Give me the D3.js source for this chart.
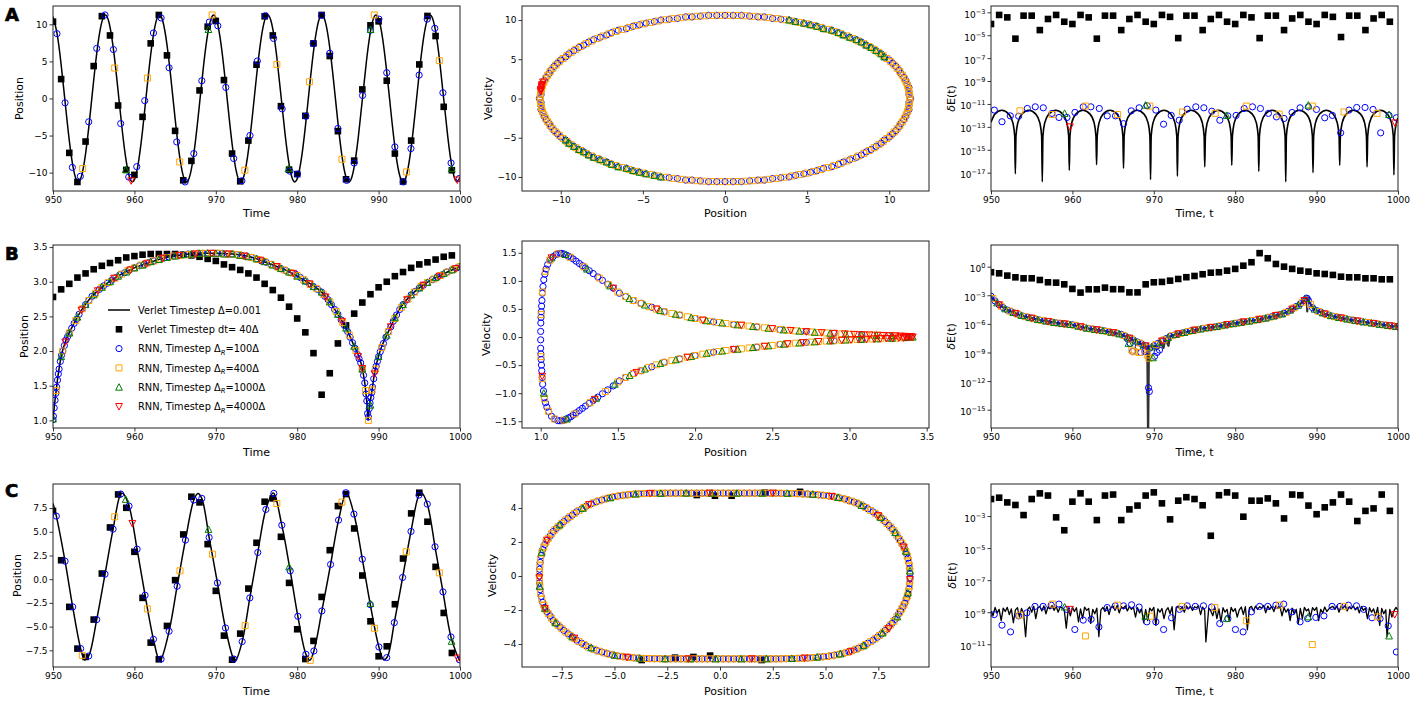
<!DOCTYPE html>
<html><head><meta charset="utf-8">
<script src="https://cdn.jsdelivr.net/npm/d3@7"></script>
<style>body{margin:0;background:#fff}svg{font-family:"DejaVu Sans",sans-serif}</style>
</head><body><script>
// ================= DATA =================
const verletTimes=[950,951,952,953,954,955,956,957,958,959,960,961,962,963,964,965,966,967,968,969,970,971,972,973,974,975,976,977,978,979,980,981,982,983,984,985,986,987,988,989,990,991,992,993,994,995,996,997,998,999];

// ---- Row A : position vs time ----
const A_line=[[950,11.01],[950.5,8.75],[951,4.57],[951.5,-0.61],[952,-5.65],[952.5,-9.46],[953,-11.19],[953.5,-10.48],[954,-7.46],[954.5,-2.81],[955,2.45],[955.5,7.18],[956,10.33],[956.5,11.23],[957,9.66],[957.5,5.97],[958,0.98],[958.5,-4.22],[959,-8.5],[959.5,-10.92],[960,-10.95],[960.5,-8.57],[961,-4.33],[961.5,0.88],[962,5.88],[962.5,9.6],[963,11.22],[963.5,10.38],[964,7.26],[964.5,2.56],[965,-2.71],[965.5,-7.38],[966,-10.44],[966.5,-11.21],[967,-9.52],[967.5,-5.75],[968,-0.72],[968.5,4.47],[969,8.68],[969.5,10.98],[970,10.89],[970.5,8.4],[971,4.08],[971.5,-1.14],[972,-6.11],[972.5,-9.74],[973,-11.23],[973.5,-10.27],[974,-7.07],[974.5,-2.3],[975,2.96],[975.5,7.57],[976,10.53],[976.5,11.18],[977,9.38],[977.5,5.52],[978,0.46],[978.5,-4.71],[979,-8.84],[979.5,-11.04],[980,-10.82],[980.5,-8.23],[981,-3.83],[981.5,1.4],[982,6.32],[982.5,9.86],[983,11.25],[983.5,10.16],[984,6.85],[984.5,2.04],[985,-3.22],[985.5,-7.77],[986,-10.62],[986.5,-11.15],[987,-9.23],[987.5,-5.29],[988,-0.19],[988.5,4.95],[989,9.0],[989.5,11.09],[990,10.74],[990.5,8.04],[991,3.58],[991.5,-1.66],[992,-6.54],[992.5,-9.99],[993,-11.25],[993.5,-10.05],[994,-6.64],[994.5,-1.78],[995,3.47],[995.5,7.96],[996,10.7],[996.5,11.11],[997,9.08],[997.5,5.06],[998,-0.07],[998.5,-5.18],[999,-9.16],[999.5,-11.13],[1000,-10.66]];
const A_verlet=[10.36,2.61,-7.34,-11.26,-5.81,4.37,11.1,8.5,-0.95,-9.64,-10.3,-2.48,7.43,11.26,5.81,-4.37,-11.04,-8.42,1.08,9.68,10.45,2.48,-7.43,-11.17,-5.68,4.55,11.08,8.5,-1.04,-9.6,-10.2,-2.34,7.43,11.26,5.72,-4.41,-10.9,-8.38,1.22,9.86,10.4,2.39,-7.43,-11.2,-5.68,4.59,11.13,8.42,-1.13,-9.68];
const A_rnn100=[[950.49,8.74],[951.48,-0.59],[952.38,-9.3],[953.36,-10.5],[954.39,-3.15],[955.37,6.75],[956.39,11.26],[957.42,6.6],[958.32,-3.38],[959.3,-10.6],[960.29,-9.2],[961.27,-0.3],[962.34,8.83],[963.28,10.86],[964.26,4.14],[965.2,-5.86],[966.23,-11.26],[967.3,-7.43],[968.28,2.39],[969.2,10.3],[970.25,9.8],[971.23,1.49],[972.2,-8.1],[973.2,-11.1],[974.2,-5.0],[975.1,5.05],[976.1,11.17],[977.1,8.1],[978.15,-1.4],[979.1,-9.8],[980.04,-10.2],[981.07,-2.4],[981.97,7.4],[983.0,11.2],[984.0,6.1],[985.0,-4.05],[986.07,-11.05],[987.0,-8.7],[988.03,0.4],[989.0,9.2],[990.04,10.7],[991.0,3.47],[992.0,-6.53],[993.03,-11.26],[993.97,-6.76],[994.98,3.15],[995.97,10.7],[996.9,9.46],[997.9,0.77],[998.9,-8.7],[999.9,-10.8]];
const A_rnn400=[[953.65,-9.46],[957.58,4.1],[961.6,2.75],[965.57,-8.56],[969.55,11.26],[973.57,-9.68],[977.5,4.6],[981.5,2.25],[985.5,-8.2],[989.47,11.26],[993.44,-9.9],[997.46,5.1]];
const A_rnn1000=[[958.93,-9.6],[969.1,9.3],[978.93,-9.46],[989.02,9.3],[998.97,-9.46]];
const A_rnn4000=[[959.6,-11.1],[999.67,-11.0]];

// ---- Row A : phase space ----
const A_ph100=[[11.3,0],[11.2,0.5],[11.2,0.9],[11.2,1.4],[11.1,1.8],[11.0,2.3],[10.9,2.7],[10.7,3.2],[10.6,3.6],[10.4,4.1],[10.2,4.5],[10.0,4.9],[9.7,5.3],[9.5,5.7],[9.2,6.1],[8.9,6.5],[8.6,6.8],[8.3,7.2],[8.0,7.5],[7.6,7.8],[7.2,8.1],[6.9,8.4],[6.5,8.7],[6.0,8.9],[5.6,9.2],[5.2,9.4],[4.8,9.6],[4.3,9.8],[3.9,10.0],[3.4,10.1],[2.9,10.2],[2.4,10.4],[2.0,10.4],[1.5,10.5],[1.0,10.6],[0.5,10.6],
[0,10.6],[-0.5,10.6],[-1.0,10.6],[-1.5,10.5],[-2.0,10.4],[-2.4,10.4],[-2.9,10.2],[-3.4,10.1],[-3.9,10.0],[-4.3,9.8],[-4.8,9.6],[-5.2,9.4],[-5.6,9.2],[-6.0,8.9],[-6.5,8.7],[-6.9,8.4],[-7.2,8.1],[-7.6,7.8],[-8.0,7.5],[-8.3,7.2],[-8.6,6.8],[-8.9,6.5],[-9.2,6.1],[-9.5,5.7],[-9.7,5.3],[-10.0,4.9],[-10.2,4.5],[-10.4,4.1],[-10.6,3.6],[-10.7,3.2],[-10.9,2.7],[-11.0,2.3],[-11.1,1.8],[-11.2,1.4],[-11.2,0.9],[-11.2,0.5],
[-11.3,0],[-11.2,-0.5],[-11.2,-0.9],[-11.2,-1.4],[-11.1,-1.8],[-11.0,-2.3],[-10.9,-2.7],[-10.7,-3.2],[-10.6,-3.6],[-10.4,-4.1],[-10.2,-4.5],[-10.0,-4.9],[-9.7,-5.3],[-9.5,-5.7],[-9.2,-6.1],[-8.9,-6.5],[-8.6,-6.8],[-8.3,-7.2],[-8.0,-7.5],[-7.6,-7.8],[-7.2,-8.1],[-6.9,-8.4],[-6.5,-8.7],[-6.0,-8.9],[-5.6,-9.2],[-5.2,-9.4],[-4.8,-9.6],[-4.3,-9.8],[-3.9,-10.0],[-3.4,-10.1],[-2.9,-10.2],[-2.4,-10.4],[-2.0,-10.4],[-1.5,-10.5],[-1.0,-10.6],[-0.5,-10.6],
[0,-10.6],[0.5,-10.6],[1.0,-10.6],[1.5,-10.5],[2.0,-10.4],[2.4,-10.4],[2.9,-10.2],[3.4,-10.1],[3.9,-10.0],[4.3,-9.8],[4.8,-9.6],[5.2,-9.4],[5.6,-9.2],[6.0,-8.9],[6.5,-8.7],[6.9,-8.4],[7.2,-8.1],[7.6,-7.8],[8.0,-7.5],[8.3,-7.2],[8.6,-6.8],[8.9,-6.5],[9.2,-6.1],[9.5,-5.7],[9.7,-5.3],[10.0,-4.9],[10.2,-4.5],[10.4,-4.1],[10.6,-3.6],[10.7,-3.2],[10.9,-2.7],[11.0,-2.3],[11.1,-1.8],[11.2,-1.4],[11.2,-0.9],[11.2,-0.5]];
const A_ph400=[[11.25,0.23],[11.22,0.69],[11.18,1.15],[11.12,1.61],[11.03,2.07],[10.92,2.52],[10.8,2.97],[10.65,3.41],[10.48,3.85],[10.3,4.27],[10.09,4.69],[9.86,5.1],[9.62,5.5],[9.36,5.89],[9.08,6.27],[8.78,6.63],[8.46,6.99],[8.12,7.33],[7.78,7.66],[7.42,7.97],[7.04,8.27],[6.65,8.55],[6.25,8.81],[5.84,9.06],[5.41,9.29],[4.97,9.51],[4.53,9.7],[4.08,9.88],[3.62,10.04],[3.15,10.18],[2.67,10.3],[2.19,10.4],[1.71,10.48],[1.23,10.54],[0.74,10.58],[0.25,10.6],
[-0.25,10.6],[-0.74,10.58],[-1.23,10.54],[-1.71,10.48],[-2.19,10.4],[-2.67,10.3],[-3.15,10.18],[-3.62,10.04],[-4.08,9.88],[-4.53,9.7],[-4.97,9.51],[-5.41,9.29],[-5.84,9.06],[-6.25,8.81],[-6.65,8.55],[-7.04,8.27],[-7.42,7.97],[-7.78,7.66],[-8.12,7.33],[-8.46,6.99],[-8.78,6.63],[-9.08,6.27],[-9.36,5.89],[-9.62,5.5],[-9.86,5.1],[-10.09,4.69],[-10.3,4.27],[-10.48,3.85],[-10.65,3.41],[-10.8,2.97],[-10.92,2.52],[-11.03,2.07],[-11.12,1.61],[-11.18,1.15],[-11.22,0.69],[-11.25,0.23],
[-11.25,-0.23],[-11.22,-0.69],[-11.18,-1.15],[-11.12,-1.61],[-11.03,-2.07],[-10.92,-2.52],[-10.8,-2.97],[-10.65,-3.41],[-10.48,-3.85],[-10.3,-4.27],[-10.09,-4.69],[-9.86,-5.1],[-9.62,-5.5],[-9.36,-5.89],[-9.08,-6.27],[-8.78,-6.63],[-8.46,-6.99],[-8.12,-7.33],[-7.78,-7.66],[-7.42,-7.97],[-7.04,-8.27],[-6.65,-8.55],[-6.25,-8.81],[-5.84,-9.06],[-5.41,-9.29],[-4.97,-9.51],[-4.53,-9.7],[-4.08,-9.88],[-3.62,-10.04],[-3.15,-10.18],[-2.67,-10.3],[-2.19,-10.4],[-1.71,-10.48],[-1.23,-10.54],[-0.74,-10.58],[-0.25,-10.6],
[0.25,-10.6],[0.74,-10.58],[1.23,-10.54],[1.71,-10.48],[2.19,-10.4],[2.67,-10.3],[3.15,-10.18],[3.62,-10.04],[4.08,-9.88],[4.53,-9.7],[4.97,-9.51],[5.41,-9.29],[5.84,-9.06],[6.25,-8.81],[6.65,-8.55],[7.04,-8.27],[7.42,-7.97],[7.78,-7.66],[8.12,-7.33],[8.46,-6.99],[8.78,-6.63],[9.08,-6.27],[9.36,-5.89],[9.62,-5.5],[9.86,-5.1],[10.09,-4.69],[10.3,-4.27],[10.48,-3.85],[10.65,-3.41],[10.8,-2.97],[10.92,-2.52],[11.03,-2.07],[11.12,-1.61],[11.18,-1.15],[11.22,-0.69],[11.25,-0.23]];
const A_ph1000=[[9.7,5.3],[9.5,5.7],[9.2,6.1],[8.9,6.5],[8.6,6.8],[8.3,7.2],[8.0,7.5],[7.6,7.8],[7.2,8.1],[6.9,8.4],[6.5,8.7],[6.0,8.9],[5.6,9.2],[5.2,9.4],[4.8,9.6],[4.3,9.8],[3.9,10.0],[-9.7,-5.3],[-9.5,-5.7],[-9.2,-6.1],[-8.9,-6.5],[-8.6,-6.8],[-8.3,-7.2],[-8.0,-7.5],[-7.6,-7.8],[-7.2,-8.1],[-6.9,-8.4],[-6.5,-8.7],[-6.0,-8.9],[-5.6,-9.2],[-5.2,-9.4],[-4.8,-9.6],[-4.3,-9.8],[-3.9,-10.0]];
const A_ph4000=[[-11.22,0.9],[-11.2,1.2],[-11.17,1.5],[-11.13,1.8],[-11.08,2.1],[-11.21,1.05],[-11.15,1.65]];

// ---- Row A : energy error ----
const A_errLine=[[950.0,2.5e-13],[950.47,1.3e-12],[951.33,2.8e-12],[952.19,1.3e-12],[952.69,2.2e-13],[952.91,1.6e-14],[952.99,7.9e-18],[953.07,1.6e-14],[953.29,2.2e-13],[953.79,1.3e-12],[954.65,2.8e-12],[955.5,1.3e-12],[956.0,2.2e-13],[956.22,1.6e-14],[956.3,1.6e-18],[956.38,1.6e-14],[956.6,2.2e-13],[957.1,1.3e-12],[957.96,2.8e-12],[958.82,1.3e-12],[959.32,2.2e-13],[959.54,1.6e-14],[959.62,1.6e-17],[959.7,1.6e-14],[959.92,2.2e-13],[960.42,1.3e-12],[961.3,2.8e-12],[962.17,1.3e-12],[962.67,2.2e-13],[962.89,1.6e-14],[962.97,5.0e-17],[963.05,1.6e-14],[963.27,2.2e-13],[963.77,1.3e-12],[964.62,2.8e-12],[965.48,1.3e-12],[965.98,2.2e-13],[966.2,1.6e-14],[966.28,2.5e-17],[966.36,1.6e-14],[966.58,2.2e-13],[967.08,1.3e-12],[967.94,2.8e-12],[968.8,1.3e-12],[969.3,2.2e-13],[969.52,1.6e-14],[969.6,2.5e-18],[969.68,1.6e-14],[969.9,2.2e-13],[970.4,1.3e-12],[971.25,2.8e-12],[972.1,1.3e-12],[972.6,2.2e-13],[972.82,1.6e-14],[972.9,5.0e-18],[972.98,1.6e-14],[973.2,2.2e-13],[973.7,1.3e-12],[974.58,2.8e-12],[975.46,1.3e-12],[975.96,2.2e-13],[976.18,1.6e-14],[976.26,3.2e-17],[976.34,1.6e-14],[976.56,2.2e-13],[977.06,1.3e-12],[977.92,2.8e-12],[978.78,1.3e-12],[979.28,2.2e-13],[979.5,1.6e-14],[979.58,4.5e-17],[979.66,1.6e-14],[979.88,2.2e-13],[980.38,1.3e-12],[981.24,2.8e-12],[982.1,1.3e-12],[982.6,2.2e-13],[982.82,1.6e-14],[982.9,1.3e-17],[982.98,1.6e-14],[983.2,2.2e-13],[983.7,1.3e-12],[984.56,2.8e-12],[985.41,1.3e-12],[985.91,2.2e-13],[986.13,1.6e-14],[986.21,1.6e-18],[986.29,1.6e-14],[986.51,2.2e-13],[987.01,1.3e-12],[987.88,2.8e-12],[988.76,1.3e-12],[989.26,2.2e-13],[989.48,1.6e-14],[989.56,1.0e-17],[989.64,1.6e-14],[989.86,2.2e-13],[990.36,1.3e-12],[991.2,2.8e-12],[992.04,1.3e-12],[992.54,2.2e-13],[992.76,1.6e-14],[992.84,4.5e-17],[992.92,1.6e-14],[993.14,2.2e-13],[993.64,1.3e-12],[994.52,2.8e-12],[995.4,1.3e-12],[995.9,2.2e-13],[996.12,1.6e-14],[996.2,3.2e-17],[996.28,1.6e-14],[996.5,2.2e-13],[997.0,1.3e-12],[997.85,2.8e-12],[998.7,1.3e-12],[999.2,2.2e-13],[999.42,1.6e-14],[999.5,6.3e-18],[999.58,1.6e-14],[999.8,2.2e-13],[1000.0,6.0e-13]];
const A_errVerlet=[9.5e-5,5.9e-4,3.6e-4,5.0e-6,5.1e-4,5.1e-4,2.8e-5,2.6e-4,5.9e-4,1.5e-4,9.5e-5,5.9e-4,3.6e-4,5.0e-6,5.1e-4,5.1e-4,2.8e-5,2.6e-4,5.9e-4,1.5e-4,9.5e-5,5.9e-4,4.0e-4,5.6e-6,5.1e-4,5.1e-4,2.8e-5,2.6e-4,5.9e-4,1.5e-4,9.5e-5,5.9e-4,3.6e-4,5.6e-6,5.1e-4,5.1e-4,2.8e-5,2.9e-4,5.9e-4,1.5e-4,9.5e-5,5.9e-4,4.0e-4,6.9e-6,5.1e-4,5.1e-4,2.8e-5,2.9e-4,5.9e-4,1.5e-4];
const A_err100=[[950.41,2.9e-12],[951.35,2.8e-13],[952.37,9.1e-13],[953.4,8.5e-13],[954.46,4.0e-12],[955.44,5.6e-12],[956.42,4.6e-12],[957.49,1.5e-12],[958.35,6.6e-13],[959.33,6.6e-13],[960.31,1.8e-12],[961.33,5.6e-12],[962.27,5.6e-12],[963.3,4.0e-12],[964.28,9.1e-13],[965.3,9.1e-13],[966.28,1.9e-13],[967.23,2.5e-12],[968.2,4.6e-12],[969.19,6.9e-12],[970.25,2.9e-12],[971.2,1.7e-13],[972.14,1.0e-12],[973.12,3.8e-13],[974.1,3.5e-12],[975.16,5.6e-12],[976.15,4.6e-12],[977.13,2.3e-12],[978.11,3.8e-13],[979.09,9.1e-13],[980.11,1.0e-12],[981.1,4.0e-12],[982.12,5.6e-12],[983.1,4.0e-12],[984.08,1.5e-12],[985.07,7.4e-13],[986.0,5.4e-13],[986.99,1.8e-12],[987.97,4.6e-12],[988.99,5.6e-12],[989.98,3.3e-12],[991.0,6.2e-13],[991.94,1.0e-12],[992.96,3.0e-14],[993.99,2.9e-12],[994.93,4.9e-12],[995.95,4.9e-12],[996.93,3.3e-12],[997.87,3.0e-14],[998.9,1.0e-12],[999.8,6.2e-13]];
const A_err400=[[953.56,2.5e-12],[957.53,1.2e-12],[961.62,6.5e-12],[965.55,1.2e-12],[969.52,6.5e-12],[973.53,2.0e-12],[977.54,1.5e-12],[981.38,6.5e-12],[985.4,1.3e-12],[989.48,6.5e-12],[993.37,2.0e-12],[997.42,1.5e-12]];
const A_err1000=[[959.04,1.5e-12],[968.98,7.9e-12],[978.93,1.0e-12],[988.99,7.9e-12],[998.9,1.2e-12]];
const A_err4000=[[959.7,1.0e-13],[999.63,2.2e-13]];

// ---- Row B : position vs time ----
const B_line=[[950.0,1.0],[950.05,1.06],[950.1,1.12],[950.2,1.24],[950.33,1.37],[950.6,1.63],[951.0,1.92],[951.6,2.16],[952.5,2.38],[953.5,2.59],[954.7,2.78],[956.1,2.93],[957.8,3.07],[959.8,3.19],[961.9,3.28],[963.9,3.35],[966.0,3.39],[968.0,3.41],[970.0,3.41],[972.1,3.4],[974.2,3.36],[976.8,3.25],[978.9,3.15],[980.9,3.02],[983.0,2.85],[984.0,2.71],[985.0,2.53],[986.0,2.33],[987.0,2.07],[987.9,1.8],[988.3,1.54],[988.5,1.33],[988.62,1.15],[988.7,1.0],[988.8,1.12],[988.9,1.22],[989.1,1.36],[989.5,1.68],[990.1,1.97],[991.2,2.28],[992.4,2.57],[994.0,2.81],[996.1,3.0],[998.1,3.12],[1000.0,3.22]];
const B_verlet=[2.78,2.89,2.97,3.06,3.12,3.18,3.23,3.27,3.31,3.35,3.37,3.39,3.4,3.4,3.4,3.4,3.39,3.38,3.36,3.33,3.3,3.25,3.21,3.17,3.12,3.06,2.97,2.88,2.77,2.64,2.47,2.27,1.97,1.37,1.68,2.11,2.37,2.54,2.7,2.82,2.92,3.0,3.08,3.14,3.2,3.25,3.28,3.32,3.36,3.38];
const B_rnn100=[[950.0,1.01],[950.05,1.06],[950.15,1.18],[950.25,1.29],[950.35,1.39],[950.45,1.48],[950.55,1.58],[950.65,1.67],[950.75,1.74],[950.9,1.85],[951.05,1.94],[951.2,2.0],[951.4,2.08],[951.6,2.16],[951.8,2.21],[952.0,2.26],[952.3,2.33],[952.6,2.4],[952.9,2.46],[953.2,2.53],[953.6,2.61],[954.0,2.67],[954.4,2.73],[954.8,2.79],[955.2,2.83],[955.7,2.89],[956.2,2.94],[956.7,2.98],[957.2,3.02],[957.7,3.06],[958.2,3.1],[958.8,3.13],[959.4,3.17],[960.0,3.2],[960.6,3.23],[961.2,3.25],[961.8,3.28],[962.4,3.3],[963.0,3.32],[963.6,3.34],[964.2,3.36],[964.8,3.37],[965.4,3.38],[966.0,3.39],[966.6,3.4],[967.2,3.4],[967.8,3.41],[968.4,3.41],[969.0,3.41],[969.6,3.41],[970.2,3.41],[970.8,3.41],[971.4,3.4],[972.0,3.4],[972.6,3.39],[973.2,3.38],[973.8,3.37],[974.4,3.35],[975.0,3.33],[975.6,3.3],[976.2,3.28],[976.8,3.25],[977.4,3.22],[978.0,3.19],[978.6,3.16],[979.2,3.13],[979.8,3.11],[980.4,3.06],[981.0,3.01],[981.5,2.97],[982.0,2.93],[982.5,2.89],[983.0,2.85],[983.4,2.79],[983.8,2.74],[984.2,2.67],[984.6,2.6],[985.0,2.53],[985.4,2.45],[985.8,2.37],[986.2,2.28],[986.5,2.2],[986.8,2.12],[987.1,2.04],[987.4,1.95],[987.6,1.89],[987.8,1.83],[988.0,1.74],[988.15,1.65],[988.3,1.54],[988.45,1.38],[988.55,1.28],[988.65,1.1],[988.75,1.05],[988.85,1.17],[988.95,1.25],[989.05,1.33],[989.15,1.4],[989.25,1.48],[989.4,1.6],[989.55,1.71],[989.7,1.78],[989.85,1.85],[990.0,1.92],[990.2,1.99],[990.4,2.05],[990.6,2.11],[990.9,2.2],[991.2,2.28],[991.5,2.35],[991.8,2.43],[992.2,2.52],[992.6,2.6],[993.0,2.67],[993.5,2.74],[994.0,2.81],[994.5,2.86],[995.0,2.91],[995.5,2.95],[996.0,2.99],[996.6,3.03],[997.2,3.07],[997.8,3.1],[998.4,3.14],[999.0,3.17],[999.6,3.2]];
const B_rnn400=[[950.4,1.43],[951.2,2.0],[952.0,2.26],[952.8,2.44],[953.6,2.61],[954.4,2.73],[955.2,2.83],[956.0,2.92],[956.8,2.99],[957.6,3.05],[958.4,3.11],[959.2,3.16],[960.0,3.2],[960.8,3.24],[961.6,3.27],[962.4,3.3],[963.2,3.33],[964.0,3.35],[964.8,3.37],[965.6,3.38],[966.4,3.39],[967.2,3.4],[968.0,3.41],[968.8,3.41],[969.6,3.41],[970.4,3.41],[971.2,3.4],[972.0,3.4],[972.8,3.39],[973.6,3.37],[974.4,3.35],[975.2,3.32],[976.0,3.29],[976.8,3.25],[977.6,3.21],[978.4,3.17],[979.2,3.13],[980.0,3.09],[980.8,3.03],[981.6,2.96],[982.4,2.9],[983.2,2.82],[984.0,2.71],[984.8,2.57],[985.6,2.41],[986.4,2.23],[987.2,2.01],[988.0,1.74],[988.4,1.43],[988.75,1.0],[989.2,1.44],[989.6,1.74],[990.4,2.05],[991.2,2.28],[992.0,2.47],[992.8,2.63],[993.6,2.75],[994.4,2.85],[995.2,2.93],[996.0,2.99],[996.8,3.04],[997.6,3.09],[998.4,3.14],[999.2,3.18],[1000.0,3.22]];
const B_rnn1000=[[950,1.02],[951,1.92],[952,2.26],[953,2.49],[954,2.67],[955,2.81],[956,2.92],[957,3.0],[958,3.08],[959,3.14],[960,3.2],[961,3.24],[962,3.29],[963,3.32],[964,3.35],[965,3.37],[966,3.39],[967,3.4],[968,3.41],[969,3.41],[970,3.41],[971,3.4],[972,3.4],[973,3.38],[974,3.36],[975,3.33],[976,3.29],[977,3.24],[978,3.19],[979,3.14],[980,3.08],[981,3.01],[982,2.93],[983,2.85],[984,2.71],[985,2.53],[986,2.33],[987,2.07],[988,1.74],[989,1.22],[990,1.92],[991,2.23],[992,2.48],[993,2.67],[994,2.81],[995,2.91],[996,2.99],[997,3.06],[998,3.12],[999,3.17],[1000,3.22]];
const B_rnn4000=[[951.5,2.13],[953.5,2.59],[955.5,2.87],[957.5,3.05],[959.5,3.17],[961.5,3.26],[963.5,3.34],[965.5,3.38],[967.5,3.4],[969.5,3.41],[971.5,3.4],[973.5,3.37],[975.5,3.31],[977.5,3.22],[979.5,3.12],[981.5,2.97],[983.5,2.78],[985.5,2.43],[987.5,1.92],[988.0,1.75],[989.5,1.67],[991.5,2.35],[993.5,2.74],[995.5,2.95],[997.5,3.08],[999.5,3.19]];

// ---- Row B : phase space ----
const B_ph100=[[1.0,0.1],[1.001,0.25],[1.002,0.35],[1.004,0.45],[1.006,0.55],[1.008,0.65],[1.011,0.78],[1.015,0.9],[1.02,1.02],[1.027,1.12],[1.035,1.21],[1.045,1.29],[1.06,1.37],[1.08,1.43],[1.1,1.47],[1.11,1.48],[1.125,1.49],[1.135,1.49],[1.15,1.48],[1.165,1.46],[1.18,1.44],[1.195,1.42],[1.21,1.39],[1.23,1.35],[1.25,1.31],[1.27,1.27],[1.29,1.23],[1.315,1.18],[1.34,1.13],[1.37,1.07],[1.4,1.01],[1.435,0.94],[1.47,0.87],[1.51,0.78],[1.55,0.72],[1.6,0.65],[1.65,0.6],[1.72,0.53],[1.8,0.45],[1.9,0.39],[2.0,0.33],[2.12,0.27],[2.25,0.22],[2.4,0.18],[2.55,0.13],[2.72,0.095],[2.9,0.065],[3.08,0.042],[3.25,0.025],[3.4,0.004],
[1.0,-0.05],[1.0,-0.2],[1.001,-0.3],[1.003,-0.4],[1.005,-0.5],[1.007,-0.6],[1.01,-0.72],[1.013,-0.84],[1.018,-0.96],[1.024,-1.08],[1.031,-1.17],[1.04,-1.25],[1.052,-1.33],[1.07,-1.41],[1.09,-1.46],[1.112,-1.49],[1.125,-1.49],[1.138,-1.49],[1.15,-1.48],[1.165,-1.46],[1.18,-1.44],[1.195,-1.42],[1.21,-1.39],[1.23,-1.35],[1.25,-1.31],[1.27,-1.27],[1.29,-1.23],[1.315,-1.18],[1.34,-1.13],[1.37,-1.07],[1.4,-1.01],[1.435,-0.94],[1.47,-0.87],[1.51,-0.78],[1.55,-0.72],[1.6,-0.65],[1.65,-0.6],[1.72,-0.53],[1.8,-0.45],[1.9,-0.39],[2.0,-0.33],[2.12,-0.27],[2.25,-0.22],[2.4,-0.18],[2.55,-0.13],[2.72,-0.095],[2.9,-0.065],[3.08,-0.042],[3.25,-0.025],[3.35,-0.014]];
const B_ph400=[[1.003,0.4],[1.012,0.8],[1.03,1.17],[1.06,1.37],[1.11,1.48],[1.19,1.42],[1.28,1.25],[1.38,1.05],[1.44,0.93],[1.5,0.8],[1.55,0.72],[1.6,0.65],[1.65,0.6],[1.7,0.54],[1.75,0.495],[1.8,0.45],[1.85,0.42],[1.9,0.39],[1.95,0.36],[2.0,0.33],[2.05,0.305],[2.1,0.28],[2.15,0.26],[2.2,0.24],[2.25,0.225],[2.3,0.21],[2.35,0.195],[2.4,0.18],[2.45,0.165],[2.5,0.15],[2.55,0.135],[2.6,0.12],[2.65,0.11],[2.7,0.1],[2.75,0.09],[2.8,0.08],[2.85,0.072],[2.9,0.065],[2.95,0.057],[3.0,0.05],[3.05,0.045],[3.1,0.04],[3.15,0.035],[3.2,0.03],[3.25,0.025],[3.3,0.02],[3.35,0.013],[3.4,0.005],
[1.002,-0.35],[1.01,-0.74],[1.025,-1.1],[1.05,-1.32],[1.09,-1.46],[1.15,-1.48],[1.22,-1.37],[1.32,-1.17],[1.42,-0.97],[1.5,-0.8],[1.55,-0.72],[1.6,-0.65],[1.65,-0.6],[1.7,-0.54],[1.75,-0.495],[1.8,-0.45],[1.85,-0.42],[1.9,-0.39],[1.95,-0.36],[2.0,-0.33],[2.05,-0.305],[2.1,-0.28],[2.15,-0.26],[2.2,-0.24],[2.25,-0.225],[2.3,-0.21],[2.35,-0.195],[2.4,-0.18],[2.45,-0.165],[2.5,-0.15],[2.55,-0.135],[2.6,-0.12],[2.65,-0.11],[2.7,-0.1],[2.75,-0.09],[2.8,-0.08],[2.85,-0.072],[2.9,-0.065],[2.95,-0.057],[3.0,-0.05],[3.05,-0.045],[3.1,-0.04],[3.15,-0.035],[3.2,-0.03],[3.25,-0.025],[3.3,-0.02],[3.35,-0.013],[3.4,-0.005]];
const B_ph1000=[[1.07,1.41],[1.16,1.47],[1.3,1.21],[1.45,0.91],[1.575,0.685],[1.675,0.57],[1.775,0.47],[1.875,0.405],[1.975,0.345],[2.075,0.29],[2.175,0.25],[2.275,0.217],[2.375,0.187],[2.475,0.157],[2.575,0.127],[2.675,0.105],[2.775,0.085],[2.875,0.068],[2.975,0.053],[3.075,0.042],[3.175,0.032],[3.275,0.022],[3.375,0.009],[3.41,0.0],
[1.02,-1.0],[1.17,-1.46],[1.36,-1.09],[1.48,-0.84],[1.575,-0.685],[1.675,-0.57],[1.775,-0.47],[1.875,-0.405],[1.975,-0.345],[2.075,-0.29],[2.175,-0.25],[2.275,-0.217],[2.375,-0.187],[2.475,-0.157],[2.575,-0.127],[2.675,-0.105],[2.775,-0.085],[2.875,-0.068],[2.975,-0.053],[3.075,-0.042],[3.175,-0.032],[3.275,-0.022],[3.375,-0.009]];
const B_ph4000=[[1.07,1.41],[1.47,0.87],[1.75,0.5],[2.05,0.3],[2.3,0.21],[2.5,0.15],[2.62,0.117],[2.72,0.096],[2.82,0.077],[2.9,0.065],[2.97,0.055],[3.03,0.047],[3.08,0.042],[3.13,0.037],[3.18,0.032],[3.22,0.028],[3.26,0.024],[3.3,0.02],[3.33,0.016],[3.36,0.012],[3.38,0.008],[3.4,0.004],[3.41,0.0],
[1.01,-0.7],[1.35,-1.11],[1.62,-0.63],[1.95,-0.36],[2.25,-0.22],[2.45,-0.165],[2.6,-0.12],[2.7,-0.1],[2.8,-0.08],[2.88,-0.068],[2.95,-0.057],[3.01,-0.049],[3.06,-0.044],[3.11,-0.039],[3.16,-0.034],[3.2,-0.03],[3.24,-0.026],[3.28,-0.022],[3.32,-0.017],[3.35,-0.013],[3.37,-0.01],[3.39,-0.006]];

// ---- Row B : energy error ----
const B_errLine=[[950,7.9e-4],[950.5,2.5e-4],[951,1e-4],[952,2.8e-5],[953,1.26e-5],[954,6.3e-6],[955,4e-6],[956,2.5e-6],[957,1.8e-6],[958,1.26e-6],[959,1e-6],[960,7.9e-7],[961,5e-7],[962,3.2e-7],[963,2.4e-7],[964,1.8e-7],[965,1.2e-7],[966,7.9e-8],[967,3.2e-8],[968,1.26e-8],[968.8,6e-9],[969.2,3.5e-9],[969.3,1e-18],[969.4,3.5e-9],[970,5e-9],[970.6,3e-9],[970.8,1.2e-8],[971.2,3e-9],[971.4,2.5e-8],[971.8,5e-9],[972,5e-8],[973,8.9e-8],[974,1.4e-7],[975,2.2e-7],[976,3.2e-7],[977,4.2e-7],[978,5.6e-7],[979,8.3e-7],[980,1.12e-6],[981,1.6e-6],[982,2.1e-6],[983,3e-6],[984,4.5e-6],[985,7.6e-6],[986,1.26e-5],[987,3.5e-5],[988,1.26e-4],[988.5,2.8e-4],[988.8,4.8e-4],[988.85,2e-5],[988.9,4.5e-4],[989,2.8e-4],[989.5,5e-5],[990,2.5e-5],[991,1.12e-5],[992,6.3e-6],[993,4.2e-6],[994,2.8e-6],[995,2e-6],[996,1.5e-6],[997,1.12e-6],[998,8.3e-7],[999,6.3e-7],[1000,5e-7]];
const B_errVerlet=[0.26,0.2,0.115,0.076,0.06,0.06,0.04,0.023,0.021,0.014,0.0046,0.0019,0.0042,0.0042,0.0063,0.0043,0.0043,0.002,0.002,0.014,0.023,0.025,0.034,0.051,0.078,0.105,0.16,0.23,0.26,0.38,0.58,1.26,2.9,26,7.6,1.9,1.0,0.58,0.38,0.3,0.2,0.17,0.135,0.089,0.076,0.076,0.06,0.06,0.047,0.047];
const B_err100=[[950.0,7.9e-4],[950.5,2.5e-4],[951.0,1.0e-4],[951.5,5.0e-5],[952.0,2.8e-5],[952.5,1.9e-5],[953.0,1.26e-5],[953.5,8.9e-6],[954.0,6.3e-6],[954.5,5.0e-6],[955.0,4.0e-6],[955.5,3.2e-6],[956.0,2.5e-6],[956.5,2.1e-6],[957.0,1.8e-6],[957.5,1.5e-6],[958.0,1.26e-6],[958.5,1.12e-6],[959.0,1.0e-6],[959.5,8.9e-7],[960.0,7.9e-7],[960.5,6.3e-7],[961.0,5.0e-7],[961.5,4.0e-7],[962.0,3.2e-7],[962.5,2.8e-7],[963.0,2.4e-7],[963.5,2.1e-7],[964.0,1.8e-7],[964.5,1.45e-7],[965.0,1.2e-7],[965.5,1.0e-7],[966.0,7.9e-8],[966.5,5.0e-8],[967.0,3.2e-8],[967.5,2.0e-8],[968.0,1.26e-8],[968.5,7.9e-9],[969.0,5.0e-9],[969.5,2.8e-9],[970.0,5.0e-9],[970.5,8.9e-9],[971.0,1.6e-8],[971.5,2.8e-8],[972.0,5.0e-8],[972.5,6.6e-8],[973.0,8.9e-8],[973.5,1.12e-7],[974.0,1.4e-7],[974.5,1.8e-7],[975.0,2.2e-7],[975.5,2.6e-7],[976.0,3.2e-7],[976.5,3.6e-7],[977.0,4.2e-7],[977.5,4.8e-7],[978.0,5.6e-7],[978.5,6.8e-7],[979.0,8.3e-7],[979.5,9.5e-7],[980.0,1.12e-6],[980.5,1.3e-6],[981.0,1.6e-6],[981.5,1.8e-6],[982.0,2.1e-6],[982.5,2.5e-6],[983.0,3.0e-6],[983.5,3.6e-6],[984.0,4.5e-6],[984.5,5.8e-6],[985.0,7.6e-6],[985.5,9.8e-6],[986.0,1.26e-5],[986.5,2.1e-5],[987.0,3.5e-5],[987.5,6.6e-5],[988.0,1.26e-4],[988.5,2.8e-4],[988.75,5.0e-4],[988.85,4.5e-4],[989.0,2.8e-4],[989.5,5.0e-5],[990.0,2.5e-5],[990.5,1.66e-5],[991.0,1.12e-5],[991.5,8.3e-6],[992.0,6.3e-6],[992.5,5.1e-6],[993.0,4.2e-6],[993.5,3.5e-6],[994.0,2.8e-6],[994.5,2.4e-6],[995.0,2.0e-6],[995.5,1.7e-6],[996.0,1.5e-6],[996.5,1.3e-6],[997.0,1.12e-6],[997.5,9.5e-7],[998.0,8.3e-7],[998.5,7.2e-7],[999.0,6.3e-7],[999.5,5.6e-7],[1000.0,5.0e-7],[966.8,2.5e-8],[967.1,9e-9],[967.4,1.3e-9],[968.1,4e-9],[968.4,1.0e-9],[968.9,1.26e-9],[969.0,2e-9],[969.35,2.0e-13],[969.45,8.0e-14],[970.1,4e-10],[970.4,1e-9],[970.7,1.8e-9]];
const B_err400=[[950.25,4.5e-4],[951.25,7.1e-5],[952.25,2.2e-5],[953.25,1.05e-5],[954.25,5.6e-6],[955.25,3.5e-6],[956.25,2.3e-6],[957.25,1.66e-6],[958.25,1.2e-6],[959.25,9.5e-7],[960.25,7.1e-7],[961.25,4.5e-7],[962.25,3.0e-7],[963.25,2.2e-7],[964.25,1.6e-7],[965.25,1.1e-7],[966.25,6.3e-8],[967.25,2.5e-8],[968.25,1.0e-8],[969.25,3.5e-9],[970.25,6.6e-9],[971.25,2.1e-8],[972.25,5.8e-8],[973.25,1.0e-7],[974.25,1.6e-7],[975.25,2.4e-7],[976.25,3.4e-7],[977.25,4.5e-7],[978.25,6.2e-7],[979.25,8.9e-7],[980.25,1.2e-6],[981.25,1.7e-6],[982.25,2.3e-6],[983.25,3.3e-6],[984.25,5.0e-6],[985.25,8.5e-6],[986.25,1.6e-5],[987.25,4.8e-5],[988.25,1.8e-4],[989.25,1.1e-4],[990.25,2.0e-5],[991.25,9.5e-6],[992.25,5.6e-6],[993.25,3.8e-6],[994.25,2.6e-6],[995.25,1.9e-6],[996.25,1.4e-6],[997.25,1.05e-6],[998.25,7.8e-7],[999.25,6.0e-7],[967.3,1.8e-9],[967.6,1.2e-9],[968.2,1.0e-9],[969.2,5.4e-10],[969.4,2.5e-10]];
const B_err1000=[[950.75,1.6e-4],[951.75,3.8e-5],[952.75,1.55e-5],[953.75,7.6e-6],[954.75,4.5e-6],[955.75,2.8e-6],[956.75,1.95e-6],[957.75,1.4e-6],[958.75,1.07e-6],[959.75,8.5e-7],[960.75,5.6e-7],[961.75,3.5e-7],[962.75,2.6e-7],[963.75,1.95e-7],[964.75,1.3e-7],[965.75,8.9e-8],[966.75,4.0e-8],[967.75,1.6e-8],[968.75,6.3e-9],[969.75,3.8e-9],[970.75,1.2e-8],[971.75,3.8e-8],[972.75,7.8e-8],[973.75,1.26e-7],[974.75,2.0e-7],[975.75,2.9e-7],[976.75,3.9e-7],[977.75,5.2e-7],[978.75,7.6e-7],[979.75,1.05e-6],[980.75,1.45e-6],[981.75,1.95e-6],[982.75,2.75e-6],[983.75,4.0e-6],[984.75,6.6e-6],[985.75,1.1e-5],[986.75,2.75e-5],[987.75,8.9e-5],[988.75,4.5e-4],[989.75,3.5e-5],[990.75,1.4e-5],[991.75,7.2e-6],[992.75,4.7e-6],[993.75,3.2e-6],[994.75,2.2e-6],[995.75,1.6e-6],[996.75,1.2e-6],[997.75,8.9e-7],[998.75,6.8e-7],[999.75,5.2e-7],[966.9,9.1e-9],[969.9,2.8e-10]];
const B_err4000=[[951,1.0e-4],[953,1.26e-5],[955,4.0e-6],[957,1.8e-6],[959,1.0e-6],[961,5.0e-7],[963,2.4e-7],[965,1.2e-7],[967,3.2e-8],[969,5.0e-9],[971,1.6e-8],[973,8.9e-8],[975,2.2e-7],[977,4.2e-7],[979,8.3e-7],[981,1.6e-6],[983,3.0e-6],[985,7.6e-6],[987,3.5e-5],[988.5,2.8e-4],[991,1.12e-5],[993,4.2e-6],[995,2.0e-6],[997,1.12e-6],[999,6.3e-7],[1000,5.0e-7]];

// ---- Row C : position vs time ----
const C_line=[[950.0,8.0],[950.41,6.65],[951.48,1.9],[952.42,-2.92],[953.4,-7.32],[953.9,-8.52],[954.39,-8.1],[955.37,-4.26],[956.39,0.53],[957.38,5.28],[958.32,8.98],[958.6,9.05],[959.34,7.71],[960.33,3.17],[961.31,-1.69],[962.34,-6.34],[963.05,-8.52],[963.28,-8.42],[964.26,-5.49],[965.25,-0.74],[966.27,4.12],[967.3,8.35],[967.8,9.05],[968.28,8.52],[969.18,4.4],[970.2,-0.39],[971.19,-5.14],[972.21,-8.42],[972.45,-8.52],[973.24,-6.58],[974.18,-1.97],[975.16,2.82],[976.15,7.36],[977.05,9.08],[978.11,5.7],[979.14,0.88],[980.08,-3.91],[981.07,-7.92],[981.55,-8.55],[982.05,-7.57],[983.03,-3.35],[984.1,1.55],[985.08,6.23],[986.05,9.1],[986.97,6.87],[988.0,2.11],[988.98,-2.68],[990.04,-7.15],[990.65,-8.52],[991.1,-8.15],[991.93,-4.58],[992.95,0.18],[993.98,5.04],[994.96,8.87],[995.3,9.08],[995.98,7.92],[996.93,3.42],[997.91,-1.34],[998.89,-6.09],[999.92,-8.49],[1000.0,-8.52]];
const C_verlet=[7.2,2.0,-2.92,-7.32,-8.2,-4.26,0.6,5.46,8.94,7.53,2.89,-1.97,-6.69,-8.45,-4.93,-0.1,4.72,8.7,8.1,3.7,-1.23,-5.95,-8.49,-5.74,-0.99,3.84,8.17,8.52,4.47,-0.39,-5.28,-8.42,-6.51,-1.87,3.06,7.71,8.98,5.35,0.39,-4.44,-8.13,-7.08,-2.64,2.18,6.94,9.12,6.06,1.3,-3.56,-7.78];
const C_rnn100=[[950.41,6.65],[951.48,1.9],[952.42,-2.92],[953.4,-7.32],[954.39,-8.1],[955.37,-4.26],[956.39,0.53],[957.38,5.28],[958.32,8.98],[959.34,7.71],[960.33,3.17],[961.31,-1.69],[962.34,-6.34],[963.28,-8.42],[964.26,-5.49],[965.25,-0.74],[966.27,4.12],[967.3,8.35],[968.28,8.52],[969.18,4.4],[970.2,-0.39],[971.19,-5.14],[972.21,-8.42],[973.24,-6.58],[974.18,-1.97],[975.16,2.82],[976.15,7.36],[977.13,9.05],[978.11,5.7],[979.14,0.88],[980.08,-3.91],[981.07,-7.92],[982.05,-7.57],[983.03,-3.35],[984.1,1.55],[985.08,6.23],[985.98,9.12],[986.97,6.87],[988.0,2.11],[988.98,-2.68],[990.04,-7.15],[991.0,-8.27],[991.93,-4.58],[992.95,0.18],[993.98,5.04],[994.96,8.87],[995.98,7.92],[996.93,3.42],[997.91,-1.34],[998.89,-6.09],[999.92,-8.49]];
const C_rnn400=[[953.6,-8.03],[957.58,6.58],[961.6,-3.13],[965.6,0.88],[969.6,2.64],[973.6,-4.9],[977.5,7.99],[981.6,-8.56],[985.5,8.13],[989.5,-5.18],[993.4,2.89],[997.46,0.67]];
const C_rnn1000=[[958.93,8.42],[969.1,5.25],[979.0,1.3],[989.0,-2.57],[998.97,-6.55]];
const C_rnn4000=[[959.75,5.88],[999.7,-8.31]];

// ---- Row C : phase space ----
const C_phVerlet=[[-1.1,4.76],[-0.24,4.72],[0.55,4.72],[2.13,4.9],[3.79,4.95],[-3.71,-4.94],[-2.13,-4.8],[-1.26,-4.76],[-0.47,-4.68],[1.97,-4.94]];
const C_ph100=[[-8.56,0],[-8.55,0.4],[-8.52,0.8],[-8.47,1.2],[-8.4,1.55],[-8.3,1.85],[-8.2,2.1],[-8.05,2.35],[-7.9,2.62],[-7.75,2.8],[-7.58,3.0],[-7.4,3.2],[-7.2,3.4],[-7.0,3.58],[-6.8,3.77],[-6.55,3.95],[-6.35,4.1],[-6.1,4.25],[-5.85,4.37],[-5.6,4.47],[-5.35,4.56],[-5.1,4.63],[-4.85,4.7],[-4.6,4.74],[-4.35,4.78],[-4.1,4.81],[-3.85,4.83],[-3.6,4.85],[-3.35,4.85],[-3.1,4.86],[-2.85,4.86],[-2.6,4.87],[-2.35,4.87],[-2.1,4.87],[-1.85,4.87],[-1.6,4.87],[-1.35,4.87],[-1.1,4.87],[-0.85,4.87],[-0.6,4.87],[-0.35,4.87],[-0.1,4.87],[0.15,4.87],[0.4,4.87],[0.65,4.87],[0.9,4.87],[1.15,4.87],[1.4,4.87],[1.65,4.87],[1.9,4.87],[2.15,4.87],[2.4,4.87],[2.65,4.87],[2.9,4.86],[3.15,4.86],[3.4,4.85],[3.65,4.84],[3.9,4.83],[4.15,4.82],[4.4,4.8],[4.65,4.77],[4.9,4.74],[5.15,4.71],[5.4,4.66],[5.65,4.6],[5.9,4.53],[6.1,4.44],[6.35,4.35],[6.55,4.25],[6.8,4.1],[7.0,3.95],[7.25,3.77],[7.45,3.6],[7.65,3.4],[7.82,3.2],[8.0,2.98],[8.15,2.78],[8.3,2.55],[8.45,2.25],[8.55,2.05],[8.67,1.8],[8.75,1.6],[8.84,1.3],[8.9,1.05],[8.95,0.75],[8.98,0.45],[9.0,0.15],
[9.0,-0.15],[8.98,-0.45],[8.95,-0.75],[8.9,-1.05],[8.84,-1.3],[8.75,-1.6],[8.67,-1.8],[8.55,-2.05],[8.45,-2.25],[8.3,-2.55],[8.15,-2.78],[8.0,-2.98],[7.82,-3.2],[7.65,-3.4],[7.45,-3.6],[7.25,-3.77],[7.0,-3.95],[6.8,-4.1],[6.55,-4.25],[6.35,-4.35],[6.1,-4.44],[5.9,-4.53],[5.65,-4.6],[5.4,-4.66],[5.15,-4.71],[4.9,-4.74],[4.65,-4.77],[4.4,-4.8],[4.15,-4.82],[3.9,-4.83],[3.65,-4.84],[3.4,-4.85],[3.15,-4.86],[2.9,-4.86],[2.65,-4.87],[2.4,-4.87],[2.15,-4.87],[1.9,-4.87],[1.65,-4.87],[1.4,-4.87],[1.15,-4.87],[0.9,-4.87],[0.65,-4.87],[0.4,-4.87],[0.15,-4.87],[-0.1,-4.87],[-0.35,-4.87],[-0.6,-4.87],[-0.85,-4.87],[-1.1,-4.87],[-1.35,-4.87],[-1.6,-4.87],[-1.85,-4.87],[-2.1,-4.87],[-2.35,-4.87],[-2.6,-4.87],[-2.85,-4.86],[-3.1,-4.86],[-3.35,-4.85],[-3.6,-4.85],[-3.85,-4.83],[-4.1,-4.81],[-4.35,-4.78],[-4.6,-4.74],[-4.85,-4.7],[-5.1,-4.63],[-5.35,-4.56],[-5.6,-4.47],[-5.85,-4.37],[-6.1,-4.25],[-6.35,-4.1],[-6.55,-3.95],[-6.8,-3.77],[-7.0,-3.58],[-7.2,-3.4],[-7.4,-3.2],[-7.58,-3.0],[-7.75,-2.8],[-7.9,-2.62],[-8.05,-2.35],[-8.2,-2.1],[-8.3,-1.85],[-8.4,-1.55],[-8.47,-1.2],[-8.52,-0.8],[-8.55,-0.4]];
const C_ph400=[[-8.555,0.2],[-8.535,0.6],[-8.5,1.0],[-8.44,1.38],[-8.35,1.7],[-8.25,1.98],[-8.13,2.22],[-7.98,2.48],[-7.83,2.71],[-7.67,2.9],[-7.49,3.1],[-7.3,3.3],[-7.1,3.49],[-6.9,3.68],[-6.68,3.86],[-6.45,4.03],[-6.23,4.18],[-5.98,4.31],[-5.73,4.42],[-5.48,4.52],[-5.23,4.6],[-4.98,4.67],[-4.73,4.72],[-4.48,4.76],[-4.23,4.8],[-3.98,4.82],[-3.73,4.84],[-3.48,4.85],[-3.23,4.86],[-2.98,4.86],[-2.73,4.87],[-2.48,4.87],[-2.23,4.87],[-1.98,4.87],[-1.73,4.87],[-1.48,4.87],[-1.23,4.87],[-0.98,4.87],[-0.73,4.87],[-0.48,4.87],[-0.23,4.87],[0.03,4.87],[0.28,4.87],[0.53,4.87],[0.78,4.87],[1.03,4.87],[1.28,4.87],[1.53,4.87],[1.78,4.87],[2.03,4.87],[2.28,4.87],[2.53,4.87],[2.78,4.87],[3.03,4.86],[3.28,4.85],[3.53,4.85],[3.78,4.84],[4.03,4.82],[4.28,4.81],[4.53,4.79],[4.78,4.76],[5.03,4.73],[5.28,4.69],[5.53,4.63],[5.78,4.57],[6.0,4.49],[6.23,4.4],[6.45,4.3],[6.68,4.18],[6.9,4.03],[7.13,3.86],[7.35,3.69],[7.55,3.5],[7.74,3.3],[7.91,3.09],[8.08,2.88],[8.23,2.67],[8.38,2.4],[8.5,2.15],[8.61,1.93],[8.71,1.7],[8.8,1.45],[8.87,1.18],[8.93,0.9],[8.97,0.6],[8.99,0.3],
[-8.555,-0.2],[-8.535,-0.6],[-8.5,-1.0],[-8.44,-1.38],[-8.35,-1.7],[-8.25,-1.98],[-8.13,-2.22],[-7.98,-2.48],[-7.83,-2.71],[-7.67,-2.9],[-7.49,-3.1],[-7.3,-3.3],[-7.1,-3.49],[-6.9,-3.68],[-6.68,-3.86],[-6.45,-4.03],[-6.23,-4.18],[-5.98,-4.31],[-5.73,-4.42],[-5.48,-4.52],[-5.23,-4.6],[-4.98,-4.67],[-4.73,-4.72],[-4.48,-4.76],[-4.23,-4.8],[-3.98,-4.82],[-3.73,-4.84],[-3.48,-4.85],[-3.23,-4.86],[-2.98,-4.86],[-2.73,-4.87],[-2.48,-4.87],[-2.23,-4.87],[-1.98,-4.87],[-1.73,-4.87],[-1.48,-4.87],[-1.23,-4.87],[-0.98,-4.87],[-0.73,-4.87],[-0.48,-4.87],[-0.23,-4.87],[0.03,-4.87],[0.28,-4.87],[0.53,-4.87],[0.78,-4.87],[1.03,-4.87],[1.28,-4.87],[1.53,-4.87],[1.78,-4.87],[2.03,-4.87],[2.28,-4.87],[2.53,-4.87],[2.78,-4.87],[3.03,-4.86],[3.28,-4.85],[3.53,-4.85],[3.78,-4.84],[4.03,-4.82],[4.28,-4.81],[4.53,-4.79],[4.78,-4.76],[5.03,-4.73],[5.28,-4.69],[5.53,-4.63],[5.78,-4.57],[6.0,-4.49],[6.23,-4.4],[6.45,-4.3],[6.68,-4.18],[6.9,-4.03],[7.13,-3.86],[7.35,-3.69],[7.55,-3.5],[7.74,-3.3],[7.91,-3.09],[8.08,-2.88],[8.23,-2.67],[8.38,-2.4],[8.5,-2.15],[8.61,-1.93],[8.71,-1.7],[8.8,-1.45],[8.87,-1.18],[8.93,-0.9],[8.97,-0.6],[8.99,-0.3]];
const C_ph1000=[[-8.45,1.4],[-7.6,3.0],[-6.5,3.98],[-5.2,4.6],[-4.0,4.82],[-2.8,4.86],[-1.6,4.87],[-0.4,4.87],[0.8,4.87],[2.0,4.87],[3.2,4.86],[4.4,4.8],[5.6,4.62],[6.7,4.15],[7.6,3.45],[8.3,2.55],[8.8,1.45],[9.0,0.3],[8.9,-1.0],[8.4,-2.4],[7.7,-3.35],[6.8,-4.1],[5.7,-4.58],[4.6,-4.77],[3.4,-4.85],[2.2,-4.87],[1.0,-4.87],[-0.2,-4.87],[-1.4,-4.87],[-2.6,-4.87],[-3.8,-4.84],[-5.0,-4.66],[-6.1,-4.22],[-7.0,-3.58],[-7.8,-2.75],[-8.3,-1.9],[-8.55,-0.6]];
const C_ph4000=[[-8.2,2.1],[-6.2,4.2],[-3.3,4.86],[-0.5,4.87],[2.5,4.87],[5.3,4.68],[7.5,3.55],[8.7,1.7],[9.0,-0.2],[8.0,-3.1],[6.2,-4.45],[4.0,-4.83],[1.5,-4.87],[-1.5,-4.87],[-4.4,-4.78],[-6.9,-3.65],[-8.3,-1.9],[-8.56,-0.1]];

// ---- Row C : energy error ----
const C_errLine=[[950,1.2e-9],[950.25,6e-10],[950.5,2.0e-9],[950.75,9e-10],[951,1.5e-9],[951.25,3e-10],[951.5,1.8e-9],[951.75,1.1e-9],[952,2.0e-9],[952.25,7e-10],[952.5,1.6e-9],[952.75,2.2e-10],[953,1.4e-9],[953.25,1.9e-9],[953.5,5e-10],[953.75,1.7e-9],[954,9e-10],[954.25,3e-11],[954.5,1.5e-9],[954.75,2.1e-9],[955,1.0e-9],[955.25,2.4e-9],[955.5,4e-10],[955.75,1.8e-9],[956,2.3e-9],[956.25,1.2e-9],[956.5,2.5e-9],[956.75,8e-10],[957,2.1e-9],[957.25,1.6e-9],[957.5,2.6e-9],[957.75,1.3e-9],[958,2.4e-9],[958.25,1.0e-9],[958.5,2.2e-9],[958.75,1.9e-9],[959,1.4e-9],[959.25,1.0e-10],[959.5,1.8e-9],[959.75,6e-10],[960,2.0e-9],[960.25,1.1e-9],[960.5,1.9e-9],[960.75,2.5e-10],[961,1.6e-9],[961.25,4e-10],[961.5,2.1e-9],[961.75,1.3e-9],[962,1.7e-9],[962.25,2.0e-10],[962.5,1.5e-9],[962.75,8e-10],[963,1.8e-9],[963.25,3e-11],[963.5,1.4e-9],[963.75,2.0e-9],[964,1.1e-9],[964.25,2.3e-9],[964.5,7e-10],[964.75,2.0e-9],[965,2.4e-9],[965.25,1.3e-9],[965.5,2.6e-9],[965.75,9e-10],[966,2.2e-9],[966.25,1.7e-9],[966.5,2.5e-9],[966.75,1.2e-9],[967,2.3e-9],[967.25,1.5e-9],[967.5,2.1e-9],[967.75,5e-10],[968,1.9e-9],[968.25,9e-10],[968.5,1.6e-9],[968.75,2.2e-10],[969,1.5e-9],[969.25,3e-10],[969.5,1.8e-9],[969.75,1.2e-9],[970,2.0e-9],[970.25,1.5e-10],[970.5,1.6e-9],[970.75,1.0e-9],[971,1.7e-9],[971.25,4e-10],[971.5,1.3e-9],[971.75,1.9e-9],[972,8e-10],[972.25,2.2e-9],[972.5,8e-11],[972.75,2.0e-9],[973,2.4e-9],[973.25,1.4e-9],[973.5,2.2e-9],[973.75,1.0e-9],[974,2.5e-9],[974.25,1.6e-9],[974.5,2.3e-9],[974.75,1.3e-9],[975,2.2e-9],[975.25,1.9e-9],[975.5,2.5e-9],[975.75,7e-10],[976,2.1e-9],[976.25,1.3e-9],[976.4,1.4e-11],[976.75,1.8e-9],[977,1.2e-9],[977.25,6e-10],[977.5,2.0e-9],[977.75,4e-10],[978,1.6e-9],[978.25,2.5e-10],[978.5,1.9e-9],[978.75,1.0e-9],[979,1.5e-9],[979.25,3e-10],[979.5,2.0e-9],[979.75,1.1e-9],[980,1.7e-9],[980.25,5e-10],[980.5,1.4e-9],[980.75,2.1e-9],[981,7e-10],[981.25,2.2e-9],[981.5,8e-11],[981.75,1.9e-9],[982,2.3e-9],[982.25,1.2e-9],[982.5,2.4e-9],[982.75,1.5e-9],[983,2.2e-9],[983.25,1.8e-9],[983.5,2.6e-9],[983.75,9e-10],[984,2.4e-9],[984.25,1.5e-9],[984.5,2.3e-9],[984.75,1.1e-9],[985,2.5e-9],[985.25,1.7e-9],[985.5,2.2e-9],[985.75,6e-10],[986,1.9e-9],[986.25,1.0e-9],[986.5,1.6e-9],[986.75,3e-10],[987,1.8e-9],[987.25,8e-10],[987.5,1.5e-9],[987.75,2.0e-10],[988,1.7e-9],[988.25,4e-10],[988.5,2.0e-9],[988.75,1.2e-9],[989,1.6e-9],[989.25,5e-10],[989.5,1.9e-9],[989.75,1.3e-9],[990,2.0e-9],[990.25,3e-10],[990.5,1.5e-9],[990.75,9e-10],[991,2.1e-9],[991.25,1.1e-9],[991.5,1.6e-9],[991.75,2.0e-9],[992,2.3e-9],[992.25,1.5e-9],[992.5,2.5e-9],[992.75,1.0e-9],[993,2.4e-9],[993.25,1.8e-9],[993.5,2.6e-9],[993.75,1.2e-9],[994,2.2e-9],[994.25,1.6e-9],[994.5,2.5e-9],[994.75,1.4e-9],[995,2.1e-9],[995.25,9e-10],[995.5,2.3e-9],[995.75,1.3e-9],[996,1.8e-9],[996.25,4e-10],[996.5,1.9e-9],[996.75,1.0e-9],[997,1.6e-9],[997.25,6e-10],[997.5,2.0e-9],[997.75,1.5e-10],[998,1.7e-9],[998.25,8e-10],[998.5,1.4e-9],[998.65,3e-11],[999,1.5e-9],[999.25,5e-10],[999.5,1.2e-9],[999.75,2.0e-9],[1000,1.3e-9]];
const C_errVerlet=[1.15e-2,1.4e-2,7.1e-3,4.9e-3,1.15e-3,1.15e-2,2.6e-2,1.9e-2,8.3e-4,1.3e-4,7.9e-3,2.6e-2,7.9e-3,5.6e-4,1.9e-2,2.2e-2,5.6e-4,2.6e-3,4.5e-3,1.9e-2,3.0e-2,6.2e-3,6.2e-4,9.1e-3,1.5e-2,1.15e-2,4.7e-3,5.9e-5,2.0e-2,3.0e-2,1.9e-2,9.1e-4,9.1e-3,9.1e-3,1.26e-2,6.2e-3,7.1e-4,2.2e-2,2.0e-2,4.5e-3,1.3e-3,3.5e-3,7.1e-3,2.2e-2,7.9e-3,4.9e-4,2.1e-3,3.0e-3,2.2e-2,2.1e-3];
const C_err100=[[950.4,7.1e-10],[951.35,1.55e-10],[952.4,5.9e-11],[953.4,5.9e-10],[954.4,9.1e-10],[955.4,2.3e-9],[956.4,2.3e-9],[957.4,2.75e-9],[958.35,3.2e-9],[959.3,1.5e-9],[960.3,8.3e-11],[961.33,3.2e-10],[962.3,3.6e-10],[963.26,1.2e-10],[964.28,1.95e-9],[965.26,2.5e-9],[966.28,2.5e-9],[967.27,2.9e-9],[968.2,2.1e-9],[969.15,2.5e-10],[970.25,2.5e-10],[971.2,8.3e-11],[972.18,4.5e-10],[973.16,1.5e-9],[974.1,2.5e-9],[975.1,2.3e-9],[976.1,2.5e-9],[977.1,2.1e-9],[978.1,1.95e-10],[979.1,4.0e-10],[980.03,8.3e-11],[980.97,5.9e-11],[982.0,1.05e-9],[983.0,2.3e-9],[984.0,2.3e-9],[985.0,2.75e-9],[985.96,3.2e-9],[986.99,1.05e-9],[987.97,2.5e-10],[988.9,4.0e-10],[989.9,4.7e-10],[990.9,5.9e-10],[991.9,2.3e-9],[992.88,2.3e-9],[993.9,2.75e-9],[994.9,2.5e-9],[995.8,1.5e-9],[996.8,4.5e-10],[997.8,4.0e-10],[998.8,1.4e-10],[999.8,3.3e-12]];
const C_err400=[[953.56,6.5e-10],[957.57,3.2e-9],[961.6,3.3e-11],[965.55,2.75e-9],[969.6,5.6e-10],[973.5,2.3e-9],[977.5,1.95e-9],[981.4,2.9e-10],[985.47,2.75e-9],[989.47,9.5e-12],[993.38,2.3e-9],[997.47,5.1e-10]];
const C_err1000=[[959.04,2.1e-9],[968.95,5.6e-10],[978.95,4.0e-10],[988.98,5.1e-10],[998.9,3.3e-11]];
const C_err4000=[[959.7,1.5e-9],[999.6,7.1e-10]];

// tick values
const timeTicks=[950,960,970,980,990,1000];
const A_posTicks=[-10,-5,0,5,10];
const A_errTicks=[1e-3,1e-5,1e-7,1e-9,1e-11,1e-13,1e-15,1e-17];
const B_posTicks=[1.0,1.5,2.0,2.5,3.0,3.5];
const B_velTicks=[-1.5,-1.0,-0.5,0.0,0.5,1.0,1.5];
const B_errTicks=[1e0,1e-3,1e-6,1e-9,1e-12,1e-15];
const C_posTicks=[-7.5,-5.0,-2.5,0.0,2.5,5.0,7.5];
const C_velTicks=[-4,-2,0,2,4];
const C_errTicks=[1e-3,1e-5,1e-7,1e-9,1e-11];
const legendLabels=[["Verlet Timestep \u0394=0.001"],["Verlet Timestep dt= 40\u0394"],["RNN, Timestep \u0394","R","=100\u0394"],["RNN, Timestep \u0394","R","=400\u0394"],["RNN, Timestep \u0394","R","=1000\u0394"],["RNN, Timestep \u0394","R","=4000\u0394"]];

// ================= DRAWING =================
const svg=d3.select("body").append("svg").attr("width",1419).attr("height",702);
svg.append("rect").attr("width",1419).attr("height",702).attr("fill","#fff");
const SH={
  sq:{d:"M-3.3,-3.3H3.3V3.3H-3.3Z",fill:"#000",stroke:"none"},
  circ:{d:"M3.1,0A3.1,3.1 0 1,1 -3.1,0A3.1,3.1 0 1,1 3.1,0Z",fill:"none",stroke:"#0000ff"},
  osq:{d:"M-3,-3H3V3H-3Z",fill:"none",stroke:"#ffa500"},
  tri:{d:"M0,-3.5L3.4,3H-3.4Z",fill:"none",stroke:"#008000"},
  trid:{d:"M0,3.5L3.4,-3H-3.4Z",fill:"none",stroke:"#ff0000"}
};
let cid=0;
function panel(o){
  const x=d3.scaleLinear().domain(o.xd).range([o.l,o.r]);
  const y=(o.log?d3.scaleLog():d3.scaleLinear()).domain(o.yd).range([o.b,o.t]);
  const id="cp"+(cid++);
  svg.append("clipPath").attr("id",id).append("rect").attr("x",o.l).attr("y",o.t).attr("width",o.r-o.l).attr("height",o.b-o.t);
  const g=svg.append("g").attr("clip-path",`url(#${id})`);
  return {x,y,g,o};
}
function drawLine(p,data,curve,w,col){
  p.g.append("path").datum(data).attr("fill","none").attr("stroke",col||"#000").attr("stroke-width",w||1.5)
   .attr("stroke-linejoin","round")
   .attr("d",d3.line().x(d=>p.x(d[0])).y(d=>p.y(d[1])).curve(curve||d3.curveLinear));
}
function drawMarks(p,data,kind){
  const s=SH[kind];
  p.g.append("g").selectAll("path").data(data).join("path")
   .attr("transform",d=>`translate(${p.x(d[0]).toFixed(2)},${p.y(d[1]).toFixed(2)})`)
   .attr("d",s.d).attr("fill",s.fill).attr("stroke",s.stroke).attr("stroke-width",1);
}
const zipT=vals=>verletTimes.map((t,i)=>[t,vals[i]]);
function axes(p){
  const o=p.o;
  const gx=svg.append("g").attr("transform",`translate(0,${o.b})`)
    .call(d3.axisBottom(p.x).tickValues(o.xt).tickFormat(o.xf).tickSize(3.5).tickPadding(2));
  const gy=svg.append("g").attr("transform",`translate(${o.l},0)`)
    .call(d3.axisLeft(p.y).tickValues(o.yt).tickFormat(o.log?(()=>""):o.yf).tickSize(3.5).tickPadding(2));
  [gx,gy].forEach(g=>{g.select(".domain").remove();
    g.selectAll("line").attr("stroke","#000").attr("stroke-width",0.8);
    g.selectAll("text").attr("font-size","9px").attr("fill","#000").attr("font-family","DejaVu Sans");});
  if(o.log){
    gy.selectAll(".tick text").each(function(d){
      const t=d3.select(this); const e=Math.round(Math.log10(d));
      t.text(null).attr("dy","0.55em");
      t.append("tspan").text("10");
      t.append("tspan").attr("dy","-4").attr("font-size","6.6px").text(e<0?"\u2212"+(-e):String(e));
    });
  }
  svg.append("rect").attr("x",o.l).attr("y",o.t).attr("width",o.r-o.l).attr("height",o.b-o.t)
    .attr("fill","none").attr("stroke","#222").attr("stroke-width",1);
  svg.append("text").attr("x",(o.l+o.r)/2).attr("y",o.xly).attr("text-anchor","middle").attr("font-size","11px").attr("fill","#000").text(o.xl);
  const yl=svg.append("text").attr("transform",`translate(${o.ylx},${(o.t+o.b)/2}) rotate(-90)`)
    .attr("text-anchor","middle").attr("dy","0.35em").attr("font-size","11px").attr("fill","#000");
  if(o.yl==="dE"){yl.append("tspan").attr("font-style","italic").text("\u03b4");yl.append("tspan").text("E(t)");}
  else yl.text(o.yl);
}
const fInt=d3.format("d"), f1=d3.format(".1f");
const COLS=[[53,460],[522,929],[991,1398]];
const ROWS={A:{t:6,b:191,xly:216.5},B:{t:245,b:428,xly:455.5},C:{t:484,b:667,xly:695}};

// ----- Row A -----
let p=panel({l:COLS[0][0],r:COLS[0][1],t:ROWS.A.t,b:ROWS.A.b,xd:[950,1000],yd:[-12.48,12.47],xt:timeTicks,xf:fInt,yt:A_posTicks,yf:fInt,xl:"Time",yl:"Position",xly:ROWS.A.xly,ylx:19.5});
drawLine(p,A_line,d3.curveNatural,1.5);
drawMarks(p,zipT(A_verlet),"sq");drawMarks(p,A_rnn100,"circ");drawMarks(p,A_rnn400,"osq");drawMarks(p,A_rnn1000,"tri");drawMarks(p,A_rnn4000,"trid");
axes(p);

p=panel({l:COLS[1][0],r:COLS[1][1],t:ROWS.A.t,b:ROWS.A.b,xd:[-12.36,12.42],yd:[-11.79,11.79],xt:A_posTicks,xf:fInt,yt:A_posTicks,yf:fInt,xl:"Position",yl:"Velocity",xly:ROWS.A.xly,ylx:488});
drawMarks(p,A_ph100,"circ");drawMarks(p,A_ph400,"osq");drawMarks(p,A_ph1000,"tri");drawMarks(p,A_ph4000,"trid");
axes(p);

p=panel({l:COLS[2][0],r:COLS[2][1],t:ROWS.A.t,b:ROWS.A.b,log:true,xd:[950,1000],yd:[Math.pow(10,-18.6),Math.pow(10,-2.45)],xt:timeTicks,xf:fInt,yt:A_errTicks,xl:"Time, t",yl:"dE",xly:ROWS.A.xly,ylx:951.5});
drawLine(p,A_errLine,d3.curveMonotoneX,1.6);
drawMarks(p,zipT(A_errVerlet),"sq");drawMarks(p,A_err100,"circ");drawMarks(p,A_err400,"osq");drawMarks(p,A_err1000,"tri");drawMarks(p,A_err4000,"trid");
axes(p);

// ----- Row B -----
p=panel({l:COLS[0][0],r:COLS[0][1],t:ROWS.B.t,b:ROWS.B.b,xd:[950,1000],yd:[0.89,3.53],xt:timeTicks,xf:fInt,yt:B_posTicks,yf:f1,xl:"Time",yl:"Position",xly:ROWS.B.xly,ylx:24});
drawLine(p,B_line,d3.curveMonotoneX,1.5);
drawMarks(p,zipT(B_verlet),"sq");drawMarks(p,B_rnn100,"circ");drawMarks(p,B_rnn400,"osq");drawMarks(p,B_rnn1000,"tri");drawMarks(p,B_rnn4000,"trid");
axes(p);
const lg=svg.append("g");
legendLabels.forEach((lab,i)=>{
  const yy=310+i*19.3;
  if(i===0) lg.append("line").attr("x1",108).attr("x2",130).attr("y1",yy).attr("y2",yy).attr("stroke","#000").attr("stroke-width",1.5);
  else { const s=SH[["","sq","circ","osq","tri","trid"][i]];
    lg.append("path").attr("transform",`translate(119,${yy})`).attr("d",s.d).attr("fill",s.fill).attr("stroke",s.stroke).attr("stroke-width",1); }
  const t=lg.append("text").attr("x",138).attr("y",yy+3.6).attr("font-size","9.8px").attr("fill","#000");
  t.append("tspan").text(lab[0]);
  if(lab.length>1){ t.append("tspan").attr("dy","2.5").attr("font-size","6.8px").attr("font-style","italic").text(lab[1]);
    t.append("tspan").attr("dy","-2.5").text(lab[2]); }
});

p=panel({l:COLS[1][0],r:COLS[1][1],t:241,b:ROWS.B.b,xd:[0.879,3.515],yd:[-1.62,1.71],xt:B_posTicks,xf:f1,yt:B_velTicks,yf:f1,xl:"Position",yl:"Velocity",xly:ROWS.B.xly,ylx:485.7});
drawMarks(p,B_ph100,"circ");drawMarks(p,B_ph400,"osq");drawMarks(p,B_ph1000,"tri");drawMarks(p,B_ph4000,"trid");
axes(p);

p=panel({l:COLS[2][0],r:COLS[2][1],t:ROWS.B.t,b:ROWS.B.b,log:true,xd:[950,1000],yd:[Math.pow(10,-16.92),Math.pow(10,2.27)],xt:timeTicks,xf:fInt,yt:B_errTicks,xl:"Time, t",yl:"dE",xly:ROWS.B.xly,ylx:951.5});
drawLine(p,B_errLine,d3.curveLinear,2.2,"#333");
drawMarks(p,zipT(B_errVerlet),"sq");drawMarks(p,B_err100,"circ");drawMarks(p,B_err400,"osq");drawMarks(p,B_err1000,"tri");drawMarks(p,B_err4000,"trid");
axes(p);

// ----- Row C -----
p=panel({l:COLS[0][0],r:COLS[0][1],t:ROWS.C.t,b:ROWS.C.b,xd:[950,1000],yd:[-9.26,10.04],xt:timeTicks,xf:fInt,yt:C_posTicks,yf:f1,xl:"Time",yl:"Position",xly:ROWS.C.xly,ylx:17.2});
drawLine(p,C_line,d3.curveCatmullRom.alpha(0.5),1.5);
drawMarks(p,zipT(C_verlet),"sq");drawMarks(p,C_rnn100,"circ");drawMarks(p,C_rnn400,"osq");drawMarks(p,C_rnn1000,"tri");drawMarks(p,C_rnn4000,"trid");
axes(p);

p=panel({l:COLS[1][0],r:COLS[1][1],t:ROWS.C.t,b:ROWS.C.b,xd:[-9.38,9.9],yd:[-5.35,5.41],xt:C_posTicks,xf:f1,yt:C_velTicks,yf:fInt,xl:"Position",yl:"Velocity",xly:ROWS.C.xly,ylx:492.5});
drawMarks(p,C_phVerlet,"sq");drawMarks(p,C_ph100,"circ");drawMarks(p,C_ph400,"osq");drawMarks(p,C_ph1000,"tri");drawMarks(p,C_ph4000,"trid");
axes(p);

p=panel({l:COLS[2][0],r:COLS[2][1],t:ROWS.C.t,b:ROWS.C.b,log:true,xd:[950,1000],yd:[Math.pow(10,-12.42),Math.pow(10,-1.0)],xt:timeTicks,xf:fInt,yt:C_errTicks,xl:"Time, t",yl:"dE",xly:ROWS.C.xly,ylx:952});
drawLine(p,C_errLine,d3.curveLinear,1.3);
drawMarks(p,zipT(C_errVerlet),"sq");drawMarks(p,C_err100,"circ");drawMarks(p,C_err400,"osq");drawMarks(p,C_err1000,"tri");drawMarks(p,C_err4000,"trid");
axes(p);

[["A",21],["B",260],["C",497]].forEach(([s,y])=>svg.append("text").attr("x",5).attr("y",y).attr("font-size","18px").attr("font-weight","bold")
  .attr("fill","#000").attr("stroke","#000").attr("stroke-width",0.7).text(s));
</script></body></html>
